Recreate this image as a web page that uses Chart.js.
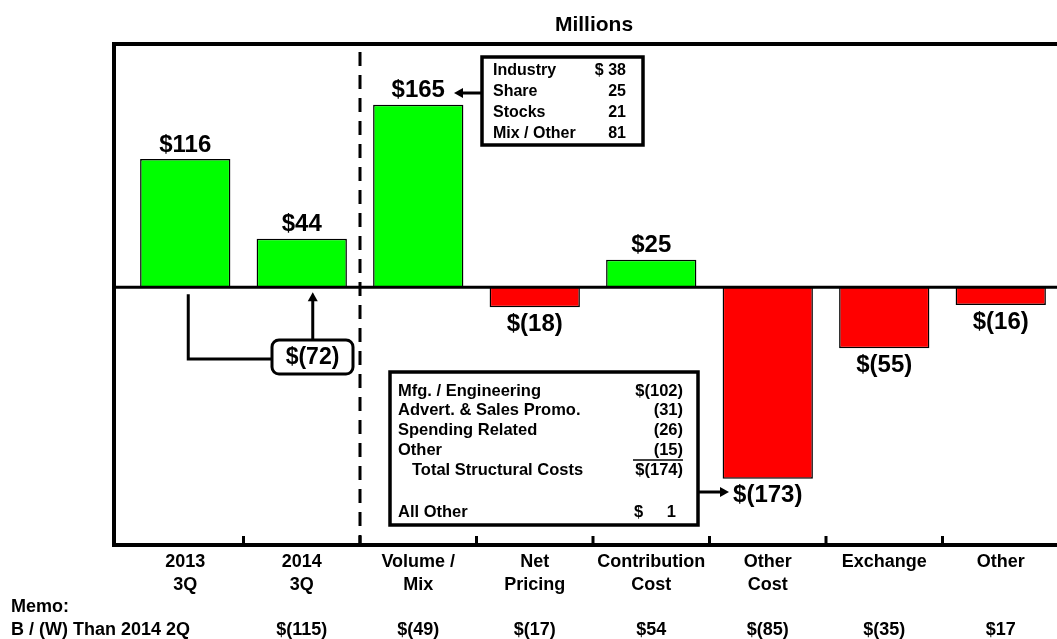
<!DOCTYPE html>
<html>
<head>
<meta charset="utf-8">
<title>Millions</title>
<script src="https://cdn.jsdelivr.net/npm/chart.js@4"></script>
<style>
  html, body { margin: 0; padding: 0; background: #fff; overflow: hidden; }
  #wrap { width: 1064px; height: 639px; }
</style>
</head>
<body>
<div id="wrap"><canvas id="bridge-chart" width="1064" height="639"></canvas></div>
<script>
// chart data
const categories = [['2013', '3Q'], ['2014', '3Q'], ['Volume /', 'Mix'], ['Net', 'Pricing'],
    ['Contribution', 'Cost'], ['Other', 'Cost'], ['Exchange'], ['Other']];
const values = [116, 44, 165, -18, 25, -173, -55, -16];
const valueLabels = ['$116', '$44', '$165', '$(18)', '$25', '$(173)', '$(55)', '$(16)'];
const memoValues = ['', '$(115)', '$(49)', '$(17)', '$54', '$(85)', '$(35)', '$17'];
const changeLabel = '$(72)';

const volumeItems = ['Industry', 'Share', 'Stocks', 'Mix / Other'];
const volumeAmounts = ['$ 38', '25', '21', '81'];

const costItems = ['Mfg. / Engineering', 'Advert. & Sales Promo.', 'Spending Related', 'Other', 'Total Structural Costs'];
const costAmounts = ['$(102)', '(31)', '(26)', '(15)', '$(174)'];
const allOther = ['All Other', '$', '1'];

const FONT = '"Liberation Sans", Arial, sans-serif';

function arrowHead(ctx, x, y, dir) {
    // dir: 'left' | 'right' | 'up'
    ctx.beginPath();
    if (dir === 'left') { ctx.moveTo(x, y); ctx.lineTo(x + 9, y - 5); ctx.lineTo(x + 9, y + 5); }
    if (dir === 'right') { ctx.moveTo(x, y); ctx.lineTo(x - 9, y - 5); ctx.lineTo(x - 9, y + 5); }
    if (dir === 'up') { ctx.moveTo(x, y); ctx.lineTo(x - 5, y + 9); ctx.lineTo(x + 5, y + 9); }
    ctx.closePath();
    ctx.fill();
}

const decorations = {
    id: 'decorations',
    afterDatasetsDraw(chart) {
        const ctx = chart.ctx;
        const area = chart.chartArea;
        const x = chart.scales.x;
        const y = chart.scales.y;
        const zeroY = y.getPixelForValue(0);
        const frameLeft = 114;
        const meta = chart.getDatasetMeta(0);

        ctx.save();
        ctx.strokeStyle = '#000';
        ctx.fillStyle = '#000';

        // frame
        ctx.lineWidth = 4;
        ctx.beginPath();
        ctx.moveTo(area.right + 4, area.top);
        ctx.lineTo(frameLeft, area.top);
        ctx.lineTo(frameLeft, area.bottom);
        ctx.lineTo(area.right + 4, area.bottom);
        ctx.stroke();

        // zero line
        ctx.lineWidth = 3;
        ctx.beginPath();
        ctx.moveTo(frameLeft, zeroY);
        ctx.lineTo(area.right + 4, zeroY);
        ctx.stroke();

        // tick marks between categories
        for (let i = 1; i < categories.length; i++) {
            const tx = (x.getPixelForValue(i - 1) + x.getPixelForValue(i)) / 2;
            ctx.beginPath();
            ctx.moveTo(tx, area.bottom);
            ctx.lineTo(tx, area.bottom - 9);
            ctx.stroke();
        }

        // dashed divider between 2014 3Q and Volume / Mix
        const divX = (x.getPixelForValue(1) + x.getPixelForValue(2)) / 2;
        ctx.setLineDash([14, 9]);
        ctx.lineWidth = 3;
        ctx.beginPath();
        ctx.moveTo(divX, area.top + 8);
        ctx.lineTo(divX, area.bottom);
        ctx.stroke();
        ctx.setLineDash([]);

        // value labels
        ctx.font = 'bold 24px ' + FONT;
        ctx.textAlign = 'center';
        meta.data.forEach((bar, i) => {
            if (values[i] >= 0) {
                ctx.textBaseline = 'bottom';
                ctx.fillText(valueLabels[i], bar.x, bar.y - 2);
            } else {
                ctx.textBaseline = 'top';
                ctx.fillText(valueLabels[i], bar.x, bar.y + 5);
            }
        });

        // title
        ctx.font = 'bold 21px ' + FONT;
        ctx.textBaseline = 'middle';
        ctx.fillText('Millions', 594, 25);

        // category labels
        ctx.font = 'bold 18px ' + FONT;
        categories.forEach((lines, i) => {
            lines.forEach((line, j) => {
                ctx.fillText(line, x.getPixelForValue(i), 562 + j * 23);
            });
        });

        // memo row
        ctx.textAlign = 'left';
        ctx.fillText('Memo:', 11, 607);
        ctx.fillText('B / (W) Than 2014 2Q', 11, 630);
        ctx.textAlign = 'center';
        memoValues.forEach((m, i) => {
            if (m) ctx.fillText(m, x.getPixelForValue(i), 630);
        });

        // $(72) connector between 2013 3Q and 2014 3Q
        const x0 = meta.data[0].x + 3;
        const x1 = meta.data[1].x + 11;
        ctx.lineWidth = 3;
        ctx.beginPath();
        ctx.moveTo(x0, zeroY + 7);
        ctx.lineTo(x0, 359);
        ctx.lineTo(272, 359);
        ctx.stroke();
        ctx.beginPath();
        ctx.moveTo(x1, 340);
        ctx.lineTo(x1, 300);
        ctx.stroke();
        arrowHead(ctx, x1, zeroY + 5, 'up');
        ctx.beginPath();
        ctx.roundRect(272, 340, 81, 34, 7);
        ctx.fillStyle = '#fff';
        ctx.fill();
        ctx.stroke();
        ctx.fillStyle = '#000';
        ctx.font = 'bold 23px ' + FONT;
        ctx.fillText(changeLabel, 312.5, 358);

        // volume / mix breakdown box
        ctx.lineWidth = 3.5;
        ctx.strokeRect(482, 57, 161, 88);
        ctx.font = 'bold 16px ' + FONT;
        volumeItems.forEach((item, i) => {
            const ry = 71 + i * 21;
            ctx.textAlign = 'left';
            ctx.fillText(item, 493, ry);
            ctx.textAlign = 'right';
            ctx.fillText(volumeAmounts[i], 626, ry);
        });
        ctx.lineWidth = 3;
        ctx.beginPath();
        ctx.moveTo(482, 93);
        ctx.lineTo(462, 93);
        ctx.stroke();
        arrowHead(ctx, 454, 93, 'left');

        // structural cost box
        ctx.lineWidth = 3.5;
        ctx.strokeRect(390, 372, 308, 153);
        ctx.font = 'bold 16.5px ' + FONT;
        costItems.forEach((item, i) => {
            const ry = 391 + i * 19.8;
            ctx.textAlign = 'left';
            ctx.fillText(item, i === 4 ? 412 : 398, ry);
            ctx.textAlign = 'right';
            ctx.fillText(costAmounts[i], 683, ry);
        });
        ctx.lineWidth = 1.5;
        ctx.beginPath();
        ctx.moveTo(633, 460);
        ctx.lineTo(683, 460);
        ctx.stroke();
        ctx.textAlign = 'left';
        ctx.fillText(allOther[0], 398, 512);
        ctx.fillText(allOther[1], 634, 512);
        ctx.textAlign = 'right';
        ctx.fillText(allOther[2], 676, 512);
        ctx.lineWidth = 3;
        ctx.beginPath();
        ctx.moveTo(698, 492);
        ctx.lineTo(720, 492);
        ctx.stroke();
        arrowHead(ctx, 729, 492, 'right');

        ctx.restore();
    }
};

const ctx = document.getElementById('bridge-chart').getContext('2d');
const bridgeChart = new Chart(ctx, {
    type: 'bar',
    data: {
        labels: categories,
        datasets: [{
            data: values,
            backgroundColor: values.map(v => v >= 0 ? '#00ff00' : '#ff0000'),
            borderColor: '#000',
            borderWidth: 1.5,
            barPercentage: 0.775,
            categoryPercentage: 1
        }]
    },
    options: {
        responsive: false,
        animation: false,
        devicePixelRatio: 1,
        layout: { padding: { left: 127, right: 5, top: 44, bottom: 94 } },
        plugins: {
            legend: { display: false },
            tooltip: { enabled: false }
        },
        scales: {
            x: { display: false },
            y: { display: false, min: -233, max: 220 }
        }
    },
    plugins: [decorations]
});
</script>
</body>
</html>
